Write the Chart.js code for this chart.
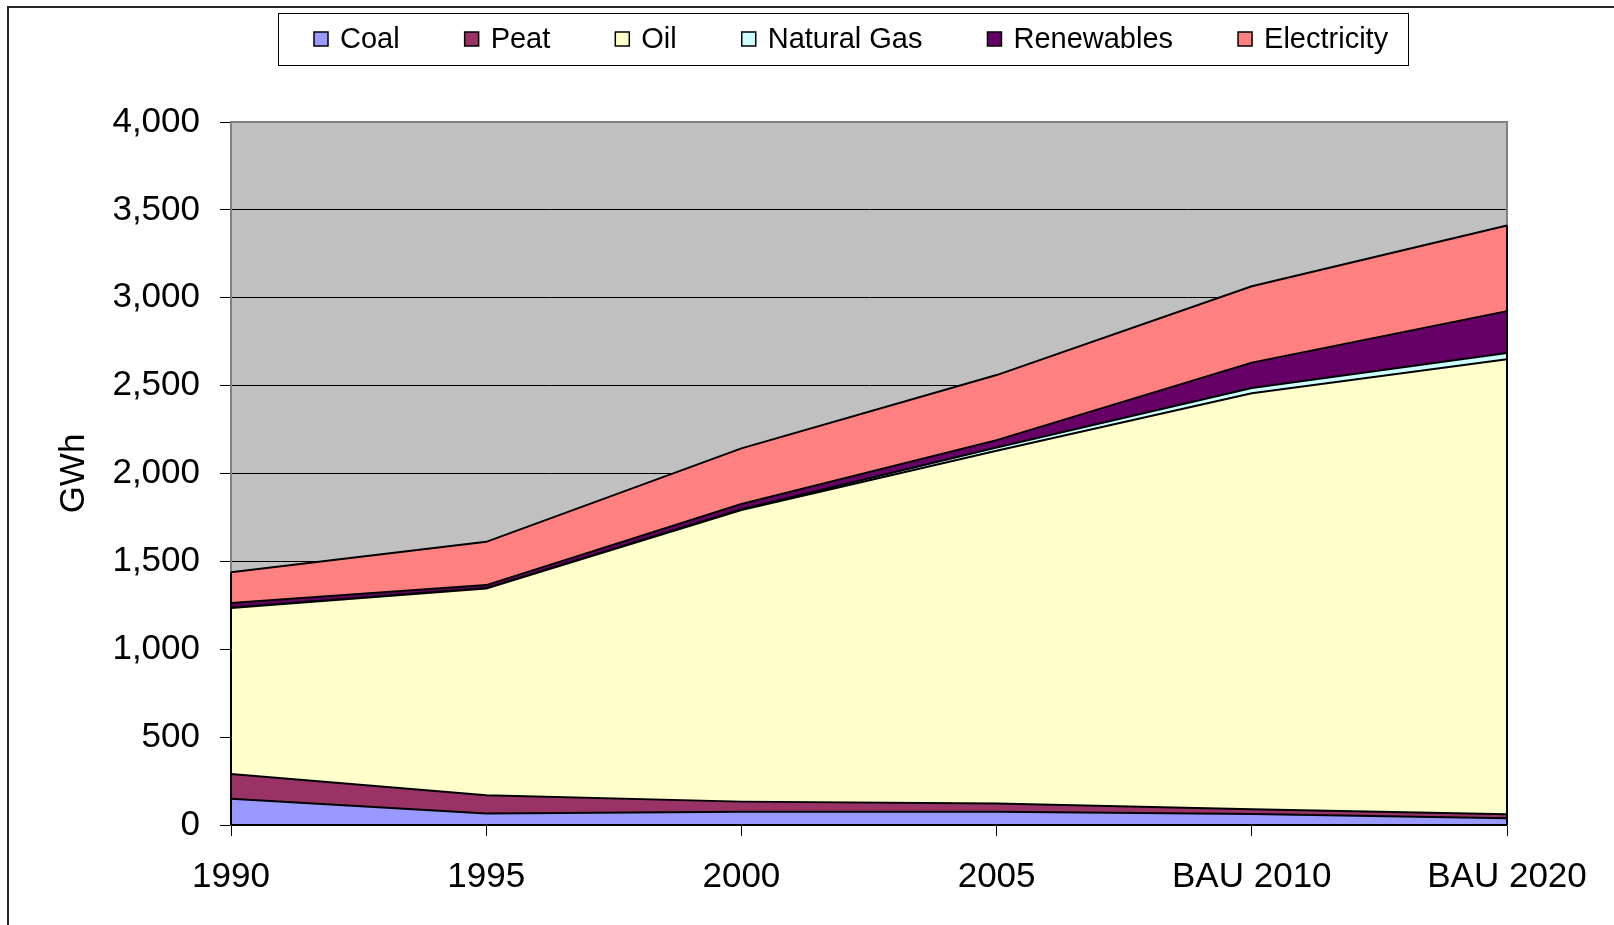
<!DOCTYPE html>
<html>
<head>
<meta charset="utf-8">
<script src="https://cdn.jsdelivr.net/npm/chart.js@4/dist/chart.umd.min.js"></script>
<style>
  html, body { margin: 0; padding: 0; background: #ffffff; }
  #wrap { width: 1614px; height: 925px; position: relative; }
  canvas { display: block; }
</style>
</head>
<body>
<div id="wrap"><canvas id="c" width="1614" height="925"></canvas></div>
<script>
// ---- Data (GWh) ----
const categories = ['1990', '1995', '2000', '2005', 'BAU 2010', 'BAU 2020'];
const coal        = [150,  66,   76,   76,   62,   38];
const peat        = [140, 103,   57,   47,   28,   23];
const oil         = [945, 1176, 1659, 2006, 2367, 2589];
const naturalGas  = [3,    3,    5,   19,   29,   35];
const renewables  = [25,  17,   29,   42,  145,  239];
const electricity = [175, 246,  317,  370,  434,  487];
const yTicks      = [0, 500, 1000, 1500, 2000, 2500, 3000, 3500, 4000];
const seriesNames = ['Coal', 'Peat', 'Oil', 'Natural Gas', 'Renewables', 'Electricity'];
const seriesColors = ['#9999FF', '#993366', '#FFFFCC', '#CCFFFF', '#660066', '#FF8080'];
const yTitle = 'GWh';

const FONT = "'Liberation Sans', Arial, sans-serif";
const seriesData = [coal, peat, oil, naturalGas, renewables, electricity];

const datasets = seriesData.map((d, i) => ({
  label: seriesNames[i],
  data: d,
  backgroundColor: seriesColors[i],
  borderColor: '#000000',
  borderWidth: 2,
  pointRadius: 0,
  pointHoverRadius: 0,
  tension: 0,
  fill: i === 0 ? 'origin' : '-1'
}));

const framePlugin = {
  id: 'framePlugin',
  beforeDraw(chart) {
    const ctx = chart.ctx;
    const a = chart.chartArea;
    ctx.save();
    ctx.fillStyle = '#ffffff';
    ctx.fillRect(0, 0, chart.width, chart.height);
    // outer frame (top and left)
    ctx.strokeStyle = '#262626';
    ctx.lineWidth = 2;
    ctx.beginPath();
    ctx.moveTo(8, chart.height);
    ctx.lineTo(8, 7);
    ctx.lineTo(chart.width, 7);
    ctx.stroke();
    // plot background
    ctx.fillStyle = '#C0C0C0';
    ctx.fillRect(a.left, a.top, a.right - a.left, a.bottom - a.top);
    ctx.restore();
  },
  beforeDatasetsDraw(chart) {
    const ctx = chart.ctx;
    const a = chart.chartArea;
    ctx.save();
    ctx.strokeStyle = '#808080';
    ctx.lineWidth = 2;
    ctx.strokeRect(a.left, a.top, a.right - a.left, a.bottom - a.top);
    ctx.restore();
  },
  afterDatasetsDraw(chart) {
    const ctx = chart.ctx;
    const a = chart.chartArea;
    const ys = chart.scales.y;
    const n = categories.length;
    const totalAt = (idx) => seriesData.reduce((s, d) => s + d[idx], 0);
    ctx.save();
    ctx.strokeStyle = '#000000';
    ctx.lineWidth = 2;
    ctx.beginPath();
    ctx.moveTo(a.right, a.bottom);
    ctx.lineTo(a.right, ys.getPixelForValue(totalAt(n - 1)));
    ctx.moveTo(a.left, a.bottom);
    ctx.lineTo(a.left, ys.getPixelForValue(totalAt(0)));
    ctx.moveTo(a.left, a.bottom);
    ctx.lineTo(a.right, a.bottom);
    ctx.stroke();
    ctx.restore();
  },
  afterDraw(chart) {
    const ctx = chart.ctx;
    ctx.save();
    // legend box
    const bx = 278, by = 13, bw = 1130, bh = 52;
    ctx.fillStyle = '#ffffff';
    ctx.fillRect(bx, by, bw, bh);
    ctx.strokeStyle = '#000000';
    ctx.lineWidth = 1;
    ctx.strokeRect(bx + 0.5, by + 0.5, bw, bh);
    ctx.font = '29px ' + FONT;
    ctx.textBaseline = 'middle';
    ctx.textAlign = 'left';
    let x = 314;
    const cy = 39;
    seriesNames.forEach((name, i) => {
      ctx.fillStyle = seriesColors[i];
      ctx.fillRect(x, cy - 7, 14, 14);
      ctx.strokeStyle = '#000000';
      ctx.lineWidth = 1.5;
      ctx.strokeRect(x, cy - 7, 14, 14);
      ctx.fillStyle = '#000000';
      ctx.fillText(name, x + 26, cy + 1);
      x += 26 + ctx.measureText(name).width + 65;
    });
    ctx.restore();
  }
};

new Chart(document.getElementById('c'), {
  type: 'line',
  data: { labels: categories, datasets: datasets },
  options: {
    responsive: false,
    animation: false,
    devicePixelRatio: 1,
    layout: { padding: { left: 0, right: 107, top: 122, bottom: 0 } },
    plugins: {
      legend: { display: false },
      tooltip: { enabled: false },
      filler: { propagate: false }
    },
    elements: { line: { borderJoinStyle: 'miter' } },
    scales: {
      x: {
        type: 'category',
        offset: false,
        grid: {
          display: true,
          drawOnChartArea: false,
          drawTicks: true,
          tickLength: 11,
          color: '#000000',
          lineWidth: 1
        },
        border: { display: true, color: '#000000', width: 1 },
        ticks: {
          color: '#000000',
          font: { family: FONT, size: 35 },
          padding: 20,
          maxRotation: 0,
          autoSkip: false
        },
        afterFit(scale) { scale.height = 100; }
      },
      y: {
        stacked: true,
        min: 0,
        max: 4000,
        afterBuildTicks(scale) { scale.ticks = yTicks.map(v => ({ value: v })); },
        grid: {
          display: true,
          drawOnChartArea: true,
          drawTicks: true,
          tickLength: 11,
          color: '#000000',
          lineWidth: 1
        },
        border: { display: true, color: '#808080', width: 2 },
        ticks: {
          color: '#000000',
          font: { family: FONT, size: 35 },
          padding: 20,
          callback: (v) => Number(v).toLocaleString('en-US')
        },
        title: {
          display: true,
          text: yTitle,
          color: '#000000',
          font: { family: FONT, size: 35 },
          padding: { top: 53, bottom: 0 }
        },
        afterFit(scale) { scale.width = 231; }
      }
    }
  },
  plugins: [framePlugin]
});
</script>
</body>
</html>
